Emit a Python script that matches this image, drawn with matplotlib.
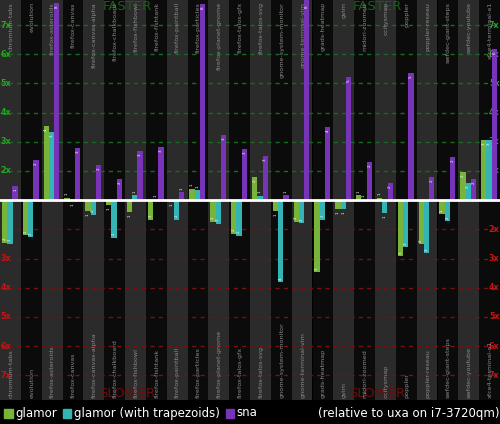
import matplotlib
matplotlib.use('Agg')
import matplotlib.pyplot as plt
from matplotlib.patches import Rectangle
import numpy as np

tests = ['chromium-tabs', 'evolution', 'firefox-asteroids', 'firefox-canvas',
         'firefox-canvas-alpha', 'firefox-chalkboard', 'firefox-fishbowl',
         'firefox-fishtank', 'firefox-paintball', 'firefox-particles',
         'firefox-planet-gnome', 'firefox-talos-gfx', 'firefox-talos-svg',
         'gnome-system-monitor', 'gnome-terminal-vim', 'grads-heatmap', 'gvim',
         'midori-zoomed', 'ocitysmap', 'poppler', 'poppler-reseau',
         'swfdec-giant-steps', 'swfdec-youtube', 'xfce4-terminal-a1']

# positive = x times faster, negative = x times slower (relative to uxa)
glamor = [-2.46, -2.21, 3.54, 1.08, -1.37, -1.16, -1.40, -1.67, -1.05, 1.39,
          -1.74, -2.15, 1.80, -1.37, -1.74, -3.46, -1.30, 1.18, 1.08, -2.91,
          -2.50, -1.47, 1.97, 3.07]
glamor_trap = [-2.49, -2.28, 3.34, -1.02, -1.50, -2.29, 1.18, 1.02, -1.67, 1.35,
               -1.81, -2.22, 1.15, -3.80, -1.78, -1.67, -1.30, 1.02, -1.43, -2.60,
               -2.81, -1.71, 1.59, 3.07]
sna = [1.49, 2.38, 7.75, 2.79, 2.21, 1.73, 2.69, 2.83, 1.28, 7.72,
       3.24, 2.76, 2.52, 1.18, 7.95, 3.51, 5.22, 2.31, 1.59, 5.36,
       1.80, 2.48, 1.73, 6.18]

series = [('glamor', glamor, '#78b43a'),
          ('glamor (with trapezoids)', glamor_trap, '#34b4b4'),
          ('sna', sna, '#7834b8')]

px = 29.2  # pixels per 1x step
ymax = 200.3 / px
ymin = -200.0 / px

fig = plt.figure(figsize=(5, 4.24), dpi=100, facecolor='black')
ax = fig.add_axes([0, 24 / 424, 1, 400 / 424])
ax.set_xlim(0, len(tests))
ax.set_ylim(ymin, ymax)
ax.axis('off')

n = len(tests)
bg = ['#2b2b2b' if i % 2 == 0 else '#0b0b0b' for i in range(n)]
ax.bar(np.arange(n), ymax - ymin, bottom=ymin, width=1, align='edge', color=bg, zorder=0)

for k in range(1, 7):
    ax.axhline(k, color='#1b6a1b', ls=(0, (3, 3)), lw=1, zorder=1)
    ax.axhline(-k, color='#7a1010', ls=(0, (3, 3)), lw=1, zorder=1)
    for xx, ha in [(0.02, 'left'), (n - 0.02, 'right')]:
        ax.text(xx, k, f'{k + 1}x', color='#22a822', fontsize=5.8, ha=ha, va='center',
                fontweight='bold', zorder=1.5)
        ax.text(xx, -k, f'{k + 1}x', color='#c81414', fontsize=5.8, ha=ha, va='center',
                fontweight='bold', zorder=1.5)

for xc in (6.1, 18.1):
    ax.text(xc, ymax, 'FASTER', color='#176017', fontsize=9.5, ha='center', va='top', zorder=1.5)
    ax.text(xc, ymin, 'SLOWER', color='#641010', fontsize=9.5, ha='center', va='bottom', zorder=1.5)

for i, name in enumerate(tests):
    ax.text(i + 0.53, ymax - 0.07, name, color='#8a8a8a', fontsize=4.6, rotation=90,
            ha='center', va='top', zorder=2)
    ax.text(i + 0.53, ymin + 0.07, name, color='#8a8a8a', fontsize=4.6, rotation=90,
            ha='center', va='bottom', zorder=2)

off = [0.09, 0.345, 0.6]
w = 0.255
for j, (label, vals, col) in enumerate(series):
    vals = np.array(vals)
    h = np.where(vals > 0, vals - 1, vals + 1)
    ax.bar(np.arange(n) + off[j], h, width=w, align='edge', color=col, zorder=3)
    for i, (v, hh) in enumerate(zip(vals, h)):
        xc = i + off[j] + w / 2
        top = min(hh, ymax - 0.1)
        if abs(hh) > 0.45:
            y, va = (top - 0.08, 'top') if hh > 0 else (hh + 0.08, 'bottom')
        else:
            y, va = (hh + 0.08, 'bottom') if hh > 0 else (hh - 0.08, 'top')
        ax.text(xc, y, f'{abs(v):.0f}', color='white', fontsize=3, rotation=90,
                ha='center', va=va, zorder=4)

ax.axhline(0, color='white', lw=2, zorder=5)

# legend strip
x = 4
for label, vals, col in series:
    fig.add_artist(Rectangle((x / 500, (424 - 417.5) / 424), 8.5 / 500, 8.5 / 424,
                             transform=fig.transFigure, color=col))
    t = fig.text((x + 11) / 500, (424 - 413) / 424, label, color='white', fontsize=8.5,
                 va='center', ha='left')
    fig.canvas.draw()
    bb = t.get_window_extent()
    x = bb.x1 + 6
fig.text(499 / 500, (424 - 413) / 424, '(relative to uxa on i7-3720qm)', color='white',
         fontsize=8.5, va='center', ha='right')

fig.savefig('out.png', dpi=100, facecolor='black')
